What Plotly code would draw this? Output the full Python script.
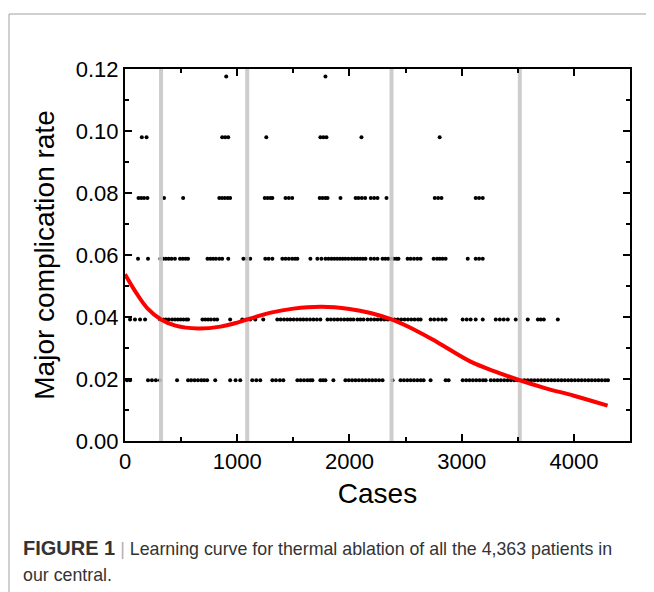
import plotly.graph_objects as go

# ---- data ----
levels = [0.0196, 0.0392, 0.0588, 0.0784, 0.0980, 0.1176]

cases_lvl1 = [18, 45, 205, 240, 275, 312, 464, 562, 590, 620, 650, 680, 705, 732, 804,
              937, 985, 1027, 1134, 1170, 1205, 1313, 1345, 1380, 1411, 1536, 1565, 1595,
              1625, 1650, 1670, 1741, 1765, 1786, 1857, 1964, 1994, 2024, 2054, 2084, 2114,
              2144, 2174, 2204, 2234, 2264, 2295, 2384, 2455, 2485, 2515, 2545, 2575, 2605,
              2635, 2661, 2723, 2857, 2884, 3009, 3040, 3070, 3100, 3130, 3160, 3190, 3214,
              3259, 3289, 3319, 3349, 3379, 3409, 3439, 3469, 3499, 3529, 3559, 3589, 3619,
              3649, 3679, 3709, 3739, 3769, 3799, 3829, 3859, 3889, 3919, 3949, 3979, 4009,
              4039, 4069, 4099, 4129, 4159, 4189, 4219, 4249, 4279, 4304]
cases_lvl2 = [45, 89, 134, 179, 312, 340, 365, 390, 420, 445, 470, 495, 520, 545, 562,
              690, 715, 740, 765, 795, 821, 937, 1045, 1080, 1116, 1161, 1232, 1357, 1387,
              1417, 1446, 1473, 1503, 1533, 1562, 1589, 1619, 1649, 1679, 1710, 1741, 1804,
              1834, 1864, 1894, 1924, 1954, 1984, 2010, 2036, 2071, 2098, 2125, 2161, 2191,
              2221, 2251, 2281, 2311, 2341, 2371, 2401, 2431, 2461, 2491, 2521, 2551, 2581,
              2611, 2634, 2723, 2755, 2790, 2825, 2857, 3009, 3045, 3080, 3125, 3188, 3304,
              3340, 3375, 3411, 3482, 3589, 3679, 3705, 3732, 3857]
cases_lvl3 = [116, 205, 315, 340, 365, 390, 415, 445, 490, 515, 540, 562, 735, 760, 785,
              810, 840, 866, 920, 1055, 1085, 1116, 1250, 1280, 1313, 1402, 1430, 1460, 1490,
              1515, 1536, 1652, 1714, 1750, 1786, 1813, 1840, 1865, 1890, 1915, 1940, 1964,
              1991, 2020, 2045, 2070, 2095, 2120, 2143, 2190, 2220, 2250, 2295, 2320, 2345,
              2370, 2395, 2420, 2437, 2518, 2545, 2575, 2605, 2634, 2750, 2780, 2805, 2830,
              2857, 3054, 3125, 3155, 3188]
cases_lvl4 = [120, 145, 170, 200, 348, 518, 840, 865, 890, 915, 937, 1245, 1270, 1295, 1313,
              1430, 1460, 1490, 1735, 1760, 1785, 1805, 1920, 2055, 2080, 2110, 2140, 2190,
              2220, 2250, 2330, 2760, 2790, 2820, 3125, 3155, 3188]
cases_lvl5 = [150, 192, 866, 893, 920, 1259, 1741, 1768, 1795, 2107, 2804]
cases_lvl6 = [902, 1786]

cutoff_cases = [321, 1089, 2375, 3518]

curve_x = [0, 100, 200, 321, 450, 650, 850, 1000, 1089, 1300, 1500, 1750, 2000, 2188,
           2375, 2600, 2786, 3080, 3300, 3518, 3750, 4000, 4300]
curve_y = [0.0538, 0.0478, 0.0428, 0.0392, 0.0372, 0.0363, 0.0369, 0.0382, 0.0392, 0.0414,
           0.0427, 0.0433, 0.0426, 0.0413, 0.0392, 0.0355, 0.0318, 0.0256, 0.0224, 0.0196,
           0.0170, 0.0146, 0.0114]

x_ticks = [0, 1000, 2000, 3000, 4000]
y_ticks = [0.00, 0.02, 0.04, 0.06, 0.08, 0.10, 0.12]

caption_bold = "FIGURE 1"
caption_line1 = "Learning curve for thermal ablation of all the 4,363 patients in"
caption_line2 = "our central."

# ---- figure (page body has an 8px offset) ----
OFF = 8
W, H = 654 - OFF, 592 - OFF
L, R, T, B = 125 - OFF, 24, 69 - OFF, 151
pw, ph = W - L - R, H - T - B

def px(xa):  # absolute window x -> paper
    return (xa - OFF - L) / pw

def py(ya):  # absolute window y -> paper
    return (H - B - (ya - OFF)) / ph

fig = go.Figure()

all_x, all_y = [], []
for lv, xs in zip(levels, [cases_lvl1, cases_lvl2, cases_lvl3, cases_lvl4, cases_lvl5, cases_lvl6]):
    all_x += xs
    all_y += [lv] * len(xs)

fig.add_trace(go.Scatter(x=all_x, y=all_y, mode="markers",
                         marker=dict(color="black", size=4, line=dict(width=0)),
                         hoverinfo="skip", showlegend=False))

vx, vy = [], []
for c in cutoff_cases:
    vx += [c, c, None]
    vy += [0, 0.12, None]
fig.add_trace(go.Scatter(x=vx, y=vy, mode="lines",
                         line=dict(color="rgba(200,200,200,0.9)", width=4),
                         hoverinfo="skip", showlegend=False))

fig.add_trace(go.Scatter(x=curve_x, y=curve_y, mode="lines",
                         line=dict(color="#ff0000", width=4, shape="spline", smoothing=1.0),
                         hoverinfo="skip", showlegend=False))

axis_font = dict(family="Liberation Sans, Arial, sans-serif", size=22, color="black")
title_font = dict(family="Liberation Sans, Arial, sans-serif", size=28, color="black")

fig.update_xaxes(range=[0, 4500], tickvals=x_ticks, ticktext=[str(v) for v in x_ticks],
                 ticks="inside", ticklen=7, tickwidth=2, tickcolor="black",
                 minor=dict(dtick=500, tick0=0, ticks="inside", ticklen=4, tickwidth=2, tickcolor="black"),
                 showline=True, linewidth=2, linecolor="black", mirror="ticks",
                 showgrid=False, zeroline=False, tickfont=axis_font,
                 title=dict(text="Cases", font=title_font, standoff=10), automargin=False)
fig.update_yaxes(range=[0, 0.12], tickvals=y_ticks, ticktext=[f"{v:.2f}" for v in y_ticks],
                 ticks="inside", ticklen=7, tickwidth=2, tickcolor="black",
                 minor=dict(dtick=0.01, tick0=0, ticks="inside", ticklen=4, tickwidth=2, tickcolor="black"),
                 showline=True, linewidth=2, linecolor="black", mirror="ticks",
                 showgrid=False, zeroline=False, tickfont=axis_font,
                 title=dict(text="Major complication rate", font=title_font, standoff=13),
                 automargin=False)

# figure frame (top and left grey border)
fx, fy = px(9), py(14)
fig.add_shape(type="line", xref="paper", yref="paper", x0=fx, y0=fy, x1=px(660), y1=fy,
              line=dict(color="#a0a0a0", width=1))
fig.add_shape(type="line", xref="paper", yref="paper", x0=fx, y0=fy, x1=fx, y1=py(600),
              line=dict(color="#a0a0a0", width=1))

cap_font = dict(family="Liberation Sans, Arial, sans-serif", size=17.8, color="#333333")
fig.add_annotation(xref="paper", yref="paper", x=px(21), y=py(548), xanchor="left", yanchor="middle",
                   text=f"<span style='font-size:20px'><b>{caption_bold}</b></span> "
                        f"<span style='color:#b0b0b0'>|</span> {caption_line1}",
                   showarrow=False, font=cap_font, align="left")
fig.add_annotation(xref="paper", yref="paper", x=px(21), y=py(575), xanchor="left", yanchor="middle",
                   text=caption_line2, showarrow=False, font=cap_font, align="left")

fig.update_layout(width=W, height=H, margin=dict(l=L, r=R, t=T, b=B, autoexpand=False),
                  paper_bgcolor="white", plot_bgcolor="white", showlegend=False)

fig.write_html("out.html")
